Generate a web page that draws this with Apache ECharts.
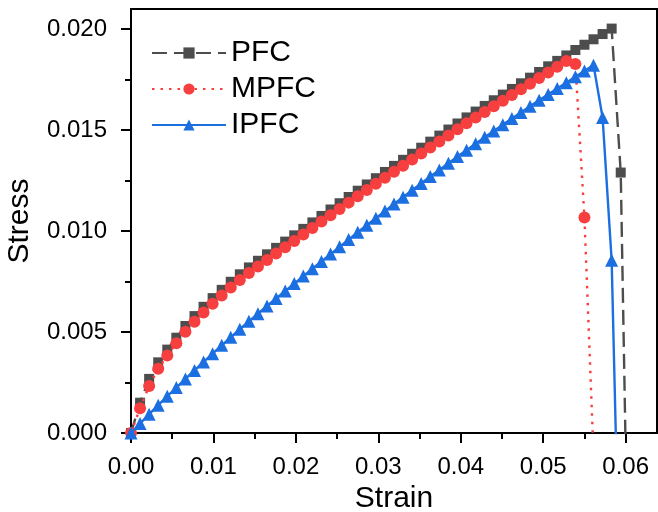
<!DOCTYPE html>
<html><head><meta charset="utf-8">
<script src="https://cdn.jsdelivr.net/npm/echarts@6/dist/echarts.min.js"></script>
<style>html,body{margin:0;padding:0;background:#fff}#c{width:658px;height:512px}</style>
</head><body><div id="c"></div>
<script>
// ---- data ----
const strain = [0, 0.0011, 0.0022, 0.0033, 0.0044, 0.0055, 0.0066, 0.0077, 0.0088, 0.0099,
  0.0110, 0.0121, 0.0132, 0.0143, 0.0154, 0.0165, 0.0176, 0.0187, 0.0198, 0.0209,
  0.0220, 0.0231, 0.0242, 0.0253, 0.0264, 0.0275, 0.0286, 0.0297, 0.0308, 0.0319,
  0.0330, 0.0341, 0.0352, 0.0363, 0.0374, 0.0385, 0.0396, 0.0407, 0.0418, 0.0429,
  0.0440, 0.0451, 0.0462, 0.0473, 0.0484, 0.0495, 0.0506, 0.0517, 0.0528, 0.0539,
  0.0550, 0.0561, 0.0572, 0.0583, 0.0594, 0.0605];

const pfc = [0, 0.00150, 0.00268, 0.00350, 0.00413, 0.00472, 0.00530, 0.00579, 0.00625, 0.00668,
  0.00709, 0.00749, 0.00786, 0.00820, 0.00853, 0.00885, 0.00917, 0.00948, 0.00979, 0.01011,
  0.01043, 0.01075, 0.01107, 0.01138, 0.01169, 0.01200, 0.01231, 0.01262, 0.01293, 0.01323,
  0.01353, 0.01383, 0.01413, 0.01443, 0.01473, 0.01503, 0.01533, 0.01563, 0.01592, 0.01620,
  0.01648, 0.01676, 0.01704, 0.01732, 0.01760, 0.01788, 0.01816, 0.01843, 0.01870, 0.01897,
  0.01923, 0.01950, 0.01976, 0.02003, 0.0129, -0.0124];

const mpfc = [0, 0.00123, 0.00233, 0.00318, 0.00384, 0.00445, 0.00502, 0.00551, 0.00597, 0.00640,
  0.00681, 0.00721, 0.00758, 0.00792, 0.00825, 0.00857, 0.00889, 0.00920, 0.00951, 0.00983,
  0.01015, 0.01047, 0.01079, 0.01110, 0.01141, 0.01172, 0.01203, 0.01234, 0.01264, 0.01294,
  0.01324, 0.01354, 0.01384, 0.01414, 0.01444, 0.01474, 0.01504, 0.01534, 0.01562, 0.01590,
  0.01618, 0.01646, 0.01674, 0.01702, 0.01730, 0.01758, 0.01786, 0.01814, 0.01842, 0.01828,
  0.01067, -0.00107];

const ipfc = [0, 0.00047, 0.00093, 0.00138, 0.00182, 0.00225, 0.00268, 0.00310, 0.00352, 0.00393,
  0.00434, 0.00474, 0.00514, 0.00553, 0.00591, 0.00629, 0.00666, 0.00703, 0.00740, 0.00777,
  0.00814, 0.00850, 0.00886, 0.00922, 0.00958, 0.00994, 0.01029, 0.01064, 0.01099, 0.01134,
  0.01168, 0.01202, 0.01236, 0.01270, 0.01303, 0.01336, 0.01369, 0.01401, 0.01433, 0.01465,
  0.01496, 0.01527, 0.01558, 0.01588, 0.01618, 0.01648, 0.01677, 0.01706, 0.01735, 0.01764,
  0.01793, 0.01822, 0.01563, 0.00855, -0.0102];

const seriesNames = ['PFC', 'MPFC', 'IPFC'];
const xTicks = [0, 0.01, 0.02, 0.03, 0.04, 0.05, 0.06];
const xMinorTicks = [0.005, 0.015, 0.025, 0.035, 0.045, 0.055];
const yTicks = [0, 0.005, 0.010, 0.015, 0.020];
const yMinorTicks = [0.0025, 0.0075, 0.0125, 0.0175];

// ---- chart ----
const FONT = '"Liberation Sans", Arial, sans-serif';
function pairs(ys) { return ys.map((y, i) => [strain[i], y]); }

const X_MIN = 0, X_MAX = 0.0638, Y_MIN = 0, Y_MAX = 0.0210;

const chart = echarts.init(document.getElementById('c'), null, { renderer: 'canvas' });

const axisLineStyle = { color: '#000', width: 2 };

chart.setOption({
  animation: false,
  backgroundColor: '#fff',
  grid: { left: 131, right: 1, top: 9, bottom: 79, show: true, borderColor: '#000', borderWidth: 2,
          containLabel: false, outerBoundsMode: 'none' },
  legend: {
    data: seriesNames,
    orient: 'vertical',
    left: 146,
    top: 33,
    itemWidth: 74,
    itemHeight: 14,
    itemGap: 6,
    textStyle: { fontSize: 30, color: '#000', fontFamily: FONT, padding: 0 }
  },
  xAxis: [{
    type: 'value', min: X_MIN, max: X_MAX, interval: 0.01,
    name: 'Strain', nameLocation: 'middle', nameGap: 50,
    nameTextStyle: { fontSize: 30, color: '#000', fontFamily: FONT },
    axisLine: { show: true, onZero: false, lineStyle: axisLineStyle },
    axisTick: { show: true, length: 10, lineStyle: axisLineStyle, customValues: xTicks },
    axisLabel: { show: true, customValues: xTicks, formatter: v => v.toFixed(2), fontSize: 24, color: '#000', fontFamily: FONT, margin: 22 },
    splitLine: { show: false }
  }, {
    type: 'value', min: X_MIN, max: X_MAX, position: 'bottom',
    axisLine: { show: false },
    axisTick: { show: true, length: 6, lineStyle: axisLineStyle, customValues: xMinorTicks },
    axisLabel: { show: false },
    splitLine: { show: false }
  }],
  yAxis: [{
    type: 'value', min: Y_MIN, max: Y_MAX, interval: 0.005,
    name: 'Stress', nameLocation: 'middle', nameGap: 96,
    nameTextStyle: { fontSize: 30, color: '#000', fontFamily: FONT },
    axisLine: { show: true, onZero: false, lineStyle: axisLineStyle },
    axisTick: { show: true, length: 10, lineStyle: axisLineStyle, customValues: yTicks },
    axisLabel: { show: true, customValues: yTicks, formatter: v => v.toFixed(3), fontSize: 24, color: '#000', fontFamily: FONT, margin: 24 },
    splitLine: { show: false }
  }, {
    type: 'value', min: Y_MIN, max: Y_MAX, position: 'left',
    axisLine: { show: false },
    axisTick: { show: true, length: 6, lineStyle: axisLineStyle, customValues: yMinorTicks },
    axisLabel: { show: false },
    splitLine: { show: false }
  }],
  series: [{
    name: seriesNames[0], type: 'line', xAxisIndex: 0, yAxisIndex: 0, clip: true,
    data: pairs(pfc),
    symbol: 'rect', symbolSize: 10,
    itemStyle: { color: '#4d4d4d' },
    lineStyle: { color: '#4d4d4d', width: 2.4, type: [15, 7] },
    z: 2
  }, {
    name: seriesNames[1], type: 'line', xAxisIndex: 0, yAxisIndex: 0, clip: true,
    data: pairs(mpfc),
    symbol: 'circle', symbolSize: 12,
    itemStyle: { color: '#f73f3f' },
    lineStyle: { color: '#f73f3f', width: 2.4, type: [2.5, 6] },
    z: 3
  }, {
    name: seriesNames[2], type: 'line', xAxisIndex: 0, yAxisIndex: 0, clip: true,
    data: pairs(ipfc),
    symbol: 'triangle', symbolSize: 13,
    itemStyle: { color: '#1b6fe0' },
    lineStyle: { color: '#1b6fe0', width: 2.4, type: 'solid' },
    z: 4
  }]
});
</script>
</body></html>
